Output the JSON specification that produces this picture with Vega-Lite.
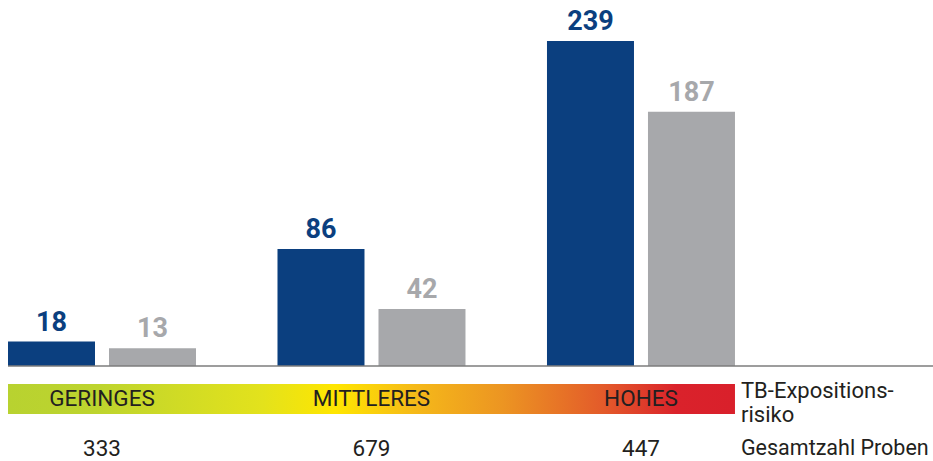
{
  "$schema": "https://vega.github.io/schema/vega-lite/v6.json",
  "width": 925,
  "height": 461,
  "autosize": "none",
  "padding": {"left": 8, "top": 0, "right": 0, "bottom": 0},
  "background": "white",
  "config": {"view": {"stroke": null}, "font": "Roboto"},
  "datasets": {
    "bars": [
      {"risk": "GERINGES", "series": "Positiv", "value": 18},
      {"risk": "GERINGES", "series": "Vergleich", "value": 13},
      {"risk": "MITTLERES", "series": "Positiv", "value": 86},
      {"risk": "MITTLERES", "series": "Vergleich", "value": 42},
      {"risk": "HOHES", "series": "Positiv", "value": 239},
      {"risk": "HOHES", "series": "Vergleich", "value": 187}
    ],
    "groups": [
      {"risk": "GERINGES", "total": 333},
      {"risk": "MITTLERES", "total": 679},
      {"risk": "HOHES", "total": 447}
    ]
  },
  "encoding": {
    "x": {
      "field": "risk",
      "type": "nominal",
      "sort": null,
      "axis": null,
      "scale": {
        "type": "band",
        "domain": ["GERINGES", "MITTLERES", "HOHES"],
        "paddingInner": 0.3024,
        "paddingOuter": 0.3674,
        "align": 0
      }
    }
  },
  "layer": [
    {
      "data": {"name": "bars"},
      "mark": {"type": "bar"},
      "encoding": {
        "xOffset": {
          "field": "series",
          "type": "nominal",
          "scale": {"domain": ["Positiv", "Vergleich"], "paddingInner": 0.1386, "paddingOuter": 0}
        },
        "y": {
          "field": "value",
          "type": "quantitative",
          "axis": null,
          "scale": {"domain": [0, 239], "range": [366, 41], "nice": false, "zero": true}
        },
        "color": {
          "field": "series",
          "type": "nominal",
          "legend": null,
          "scale": {"domain": ["Positiv", "Vergleich"], "range": ["#0b3f7f", "#a7a8ab"]}
        }
      }
    },
    {
      "data": {"name": "bars"},
      "mark": {"type": "text", "baseline": "alphabetic", "dy": -11, "fontSize": 27, "fontWeight": "bold", "font": "Roboto"},
      "encoding": {
        "xOffset": {
          "field": "series",
          "type": "nominal",
          "scale": {"domain": ["Positiv", "Vergleich"], "paddingInner": 0.1386, "paddingOuter": 0}
        },
        "y": {
          "field": "value",
          "type": "quantitative",
          "axis": null,
          "scale": {"domain": [0, 239], "range": [366, 41], "nice": false, "zero": true}
        },
        "text": {"field": "value", "type": "quantitative"},
        "color": {
          "field": "series",
          "type": "nominal",
          "legend": null,
          "scale": {"domain": ["Positiv", "Vergleich"], "range": ["#0b3f7f", "#a7a8ab"]}
        }
      }
    },
    {
      "data": {"values": [{"base": 0}]},
      "mark": {"type": "rule", "color": "#7d7d7d", "strokeWidth": 1.5},
      "encoding": {
        "x": null,
        "y": {
          "field": "base",
          "type": "quantitative",
          "axis": null,
          "scale": {"domain": [0, 239], "range": [366, 41], "nice": false, "zero": true}
        }
      }
    },
    {
      "data": {"values": [{"row": "risk"}]},
      "mark": {
        "type": "rect",
        "color": {
          "gradient": "linear",
          "x1": 0, "y1": 0, "x2": 1, "y2": 0,
          "stops": [
            {"offset": 0, "color": "#b8d230"},
            {"offset": 0.12, "color": "#bdd42e"},
            {"offset": 0.35, "color": "#e3e21c"},
            {"offset": 0.45, "color": "#ffe600"},
            {"offset": 0.56, "color": "#f5b919"},
            {"offset": 0.68, "color": "#ec9522"},
            {"offset": 0.82, "color": "#e35a2a"},
            {"offset": 0.92, "color": "#da222b"},
            {"offset": 1, "color": "#d9202b"}
          ]
        }
      },
      "encoding": {
        "x": {"datum": "GERINGES", "type": "nominal", "bandPosition": 0},
        "x2": {"datum": "HOHES", "bandPosition": 1},
        "y": {
          "field": "row",
          "type": "nominal",
          "axis": null,
          "scale": {"type": "band", "domain": ["risk", "total"], "range": [384, 464], "paddingInner": 0.4, "paddingOuter": 0}
        }
      }
    },
    {
      "data": {"name": "groups"},
      "mark": {"type": "text", "fontSize": 22.5, "color": "#231f20", "font": "Roboto", "baseline": "middle"},
      "encoding": {
        "y": {
          "datum": "risk",
          "type": "nominal",
          "axis": null,
          "scale": {"type": "band", "domain": ["risk", "total"], "range": [384, 464], "paddingInner": 0.4, "paddingOuter": 0}
        },
        "text": {"field": "risk", "type": "nominal"}
      }
    },
    {
      "data": {"name": "groups"},
      "mark": {"type": "text", "fontSize": 22.5, "color": "#231f20", "font": "Roboto", "baseline": "middle"},
      "encoding": {
        "y": {
          "datum": "total",
          "type": "nominal",
          "axis": null,
          "scale": {"type": "band", "domain": ["risk", "total"], "range": [384, 464], "paddingInner": 0.4, "paddingOuter": 0}
        },
        "text": {"field": "total", "type": "quantitative"}
      }
    },
    {
      "data": {"values": [{"row": "risk", "label": "TB-Expositions-\nrisiko"}]},
      "mark": {"type": "text", "fontSize": 22, "color": "#231f20", "font": "Roboto", "align": "left", "baseline": "alphabetic", "dx": 6, "dy": -1, "lineBreak": "\n", "lineHeight": 23.5},
      "encoding": {
        "x": {"datum": "HOHES", "type": "nominal", "bandPosition": 1},
        "y": {
          "field": "row",
          "type": "nominal",
          "axis": null,
          "scale": {"type": "band", "domain": ["risk", "total"], "range": [384, 464], "paddingInner": 0.4, "paddingOuter": 0}
        },
        "text": {"field": "label", "type": "nominal"}
      }
    },
    {
      "data": {"values": [{"row": "total", "label": "Gesamtzahl Proben"}]},
      "mark": {"type": "text", "fontSize": 21.5, "color": "#231f20", "font": "Roboto", "align": "left", "baseline": "middle", "dx": 6},
      "encoding": {
        "x": {"datum": "HOHES", "type": "nominal", "bandPosition": 1},
        "y": {
          "field": "row",
          "type": "nominal",
          "axis": null,
          "scale": {"type": "band", "domain": ["risk", "total"], "range": [384, 464], "paddingInner": 0.4, "paddingOuter": 0}
        },
        "text": {"field": "label", "type": "nominal"}
      }
    }
  ],
  "resolve": {"scale": {"y": "independent"}}
}
